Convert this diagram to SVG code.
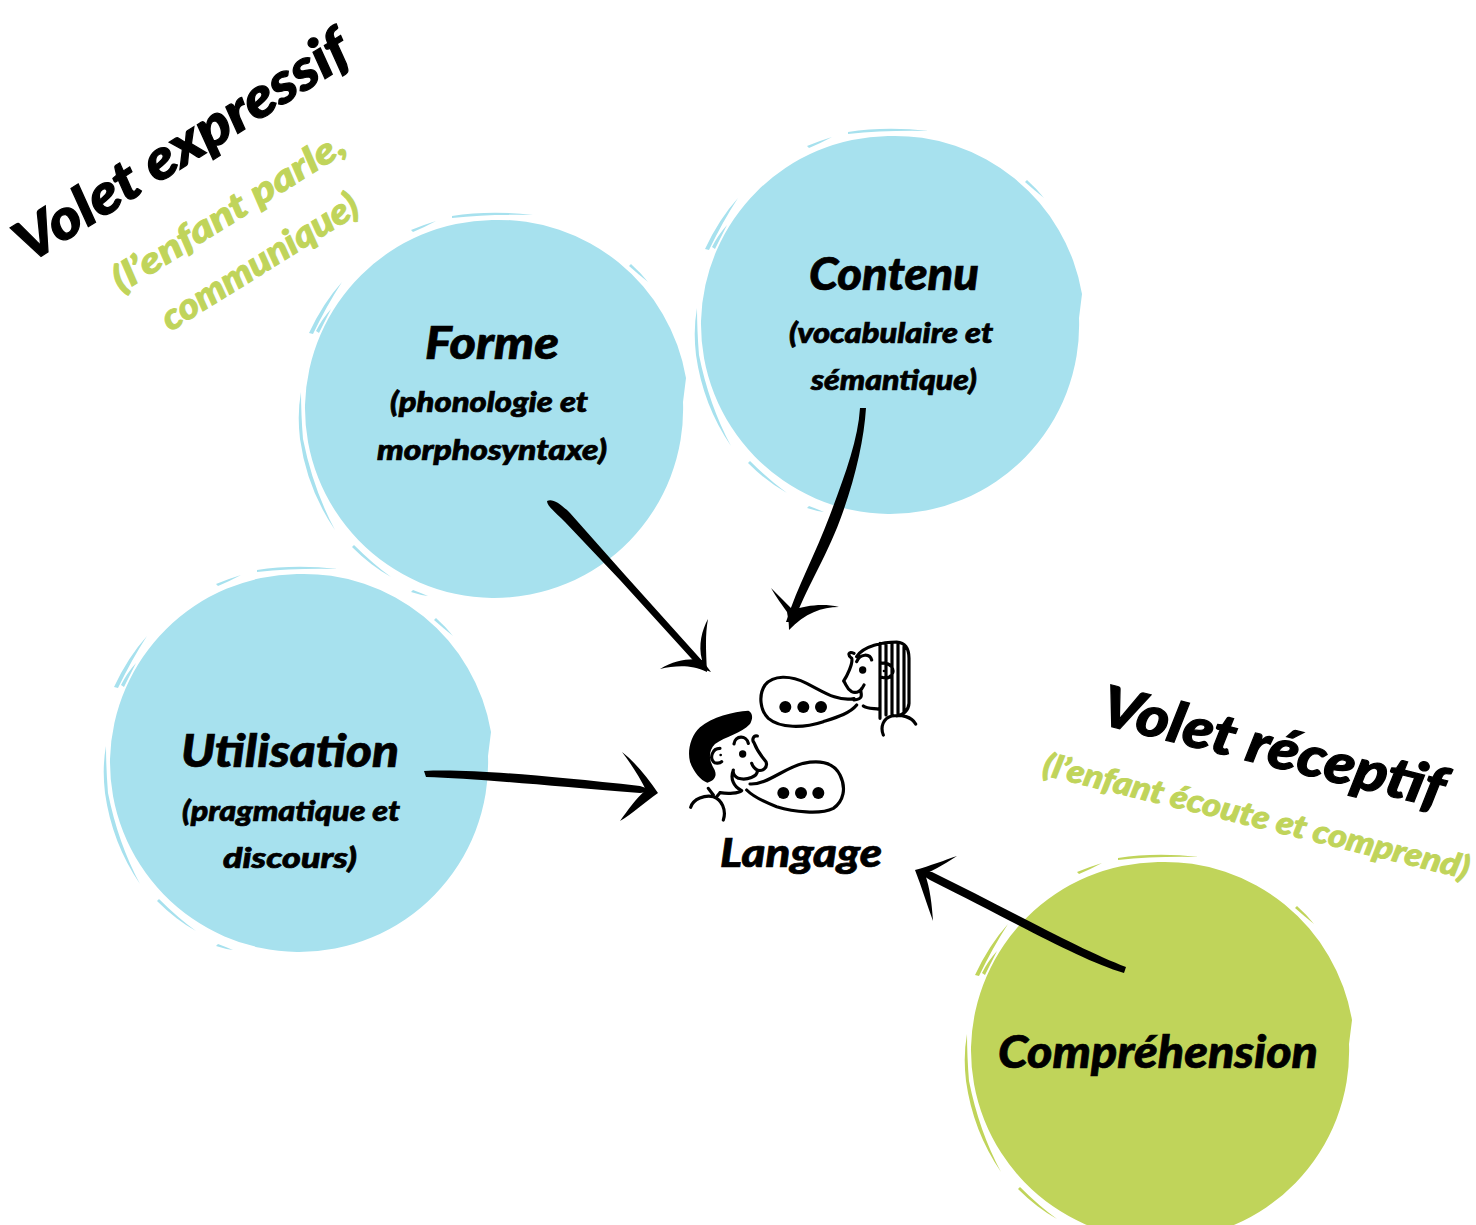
<svg xmlns="http://www.w3.org/2000/svg" width="1476" height="1225" viewBox="0 0 1476 1225">
<style>
text{font-family:"Lato","Liberation Sans",sans-serif;font-style:italic;font-weight:900;fill:#000;stroke:#000;stroke-width:.7;text-anchor:middle}
.h{font-size:45px}
.s{font-size:28px}
.b{font-size:56px;stroke-width:1.2}
.g{fill:#c0d45a;stroke:#c0d45a;font-size:36px;stroke-width:.9}
.g2{font-size:32px}
.k{fill:#000}
</style>
<defs>
<g id="blob">
<path d="M-3-189A190 190 0 0 1 191-31L188-7A189 189 0 0 1-3 189A190 190 0 0 1-190-4A190 190 0 0 1-3-189Z"/>
<path d="M-43-193Q-5-199 38-194Q-5-195-43-191ZM-84-179Q-72-184-59-188Q-70-182-82-177ZM-186-76Q-172-106-153-127Q-168-104-182-75ZM-179-78Q-173-90-164-100Q-170-88-176-76ZM-194-17Q-198 5-195 30Q-188 80-160 121Q-182 80-192 30Q-194 5-194-17ZM-141 136Q-122 155-104 168Q-124 157-143 138ZM-82 181Q-74 184-67 187Q-75 186-84 183Z"/>
<path d="M136-145Q145-137 153-127Q143-135 134-143Z"/>
</g>
</defs>

<g id="node-forme" fill="#a7e1ee">
<use href="#blob" x="495" y="409"/>
<text class="h" x="492" y="359" textLength="134" lengthAdjust="spacingAndGlyphs">Forme</text>
<text class="s" x="489" y="412" textLength="198" lengthAdjust="spacingAndGlyphs">(phonologie et</text>
<text class="s" x="492" y="460" textLength="230" lengthAdjust="spacingAndGlyphs">morphosyntaxe)</text>
</g>
<g id="node-contenu" fill="#a7e1ee">
<use href="#blob" x="891" y="325"/>
<text class="h" x="894" y="290" textLength="170" lengthAdjust="spacingAndGlyphs">Contenu</text>
<text class="s" x="891" y="343" textLength="204" lengthAdjust="spacingAndGlyphs">(vocabulaire et</text>
<text class="s" x="894" y="390" textLength="166" lengthAdjust="spacingAndGlyphs">sémantique)</text>
</g>
<g id="node-utilisation" fill="#a7e1ee">
<use href="#blob" x="300" y="763"/>
<text class="h" x="290" y="767" textLength="218" lengthAdjust="spacingAndGlyphs">Utilisation</text>
<text class="s" x="291" y="821" textLength="218" lengthAdjust="spacingAndGlyphs">(pragmatique et</text>
<text class="s" x="290" y="868" textLength="134" lengthAdjust="spacingAndGlyphs">discours)</text>
</g>
<g id="node-comprehension" fill="#c0d45a">
<use href="#blob" x="1161" y="1051"/>
<text class="h" x="1158" y="1068" textLength="320" lengthAdjust="spacingAndGlyphs">Compréhension</text>
</g>

<g id="node-langage">
<g transform="translate(670 620) scale(.33333)" fill="none" stroke="#000" stroke-width="9.500" stroke-linecap="round" stroke-linejoin="round">
<path d="M552 240C590 236 565 215 575 205M560 110C580 78 640 66 680 66C705 68 717 85 717 115L717 250C716 270 700 285 680 288M630 70L630 295M648 70V285M666 70V285M684 70V285M702 80V275M552 100C535 92 532 105 545 115C550 130 530 170 521 183C530 195 528 205 545 215C560 222 575 212 582 195M560 125C570 100 600 100 605 120M630 130C665 125 675 150 665 165C658 175 645 175 635 172M580 258C590 266 610 265 628 268M640 345C630 320 640 295 665 288C695 283 725 290 737 312M552 236C500 245 460 215 410 190C360 165 310 165 285 195C265 225 270 270 295 295C330 325 400 325 460 305C500 292 540 280 560 255"/>
<circle cx="578" cy="150" r="11" fill="#000" stroke="none"/><circle cx="642" cy="153" r="4" fill="#000" stroke="none"/>
<circle cx="346" cy="261" r="18" fill="#000" stroke="none"/><circle cx="400" cy="261" r="18" fill="#000" stroke="none"/><circle cx="453" cy="261" r="18" fill="#000" stroke="none"/>
<path d="M235 272C190 275 125 290 90 322C60 350 52 395 60 425C70 455 92 482 112 488C132 482 142 470 134 450C118 425 112 395 135 372C165 350 215 340 240 312C250 295 248 278 235 272Z" fill="#000" stroke="none"/>
<path d="M262 348C250 345 245 360 252 368C262 395 275 410 288 425C295 445 275 455 262 450C250 445 245 430 245 430M192 372C195 345 230 345 235 370M150 385C125 385 120 415 130 425C135 432 150 430 155 425M262 450C265 470 230 482 205 475C195 470 188 460 190 450C180 475 190 500 215 512C205 520 175 522 150 518M115 505L130 525M150 518L140 530M62 562C70 535 105 525 130 530C155 538 170 570 160 600M240 492C290 495 340 445 400 430C450 420 490 425 510 465C530 505 520 545 490 565C450 585 370 575 320 560C280 545 250 530 230 510"/>
<circle cx="218" cy="402" r="11" fill="#000" stroke="none"/><circle cx="152" cy="405" r="4" fill="#000" stroke="none"/>
<circle cx="340" cy="519" r="18" fill="#000" stroke="none"/><circle cx="393" cy="519" r="18" fill="#000" stroke="none"/><circle cx="445" cy="519" r="18" fill="#000" stroke="none"/>
</g>
<text class="h" x="801" y="867" textLength="162" lengthAdjust="spacingAndGlyphs" style="font-size:40px">Langage</text>
</g>

<g id="labels">
<text class="b" transform="translate(192 162) rotate(-32)" textLength="384" lengthAdjust="spacingAndGlyphs">Volet expressif</text>
<text class="g" transform="translate(235 222) rotate(-32)" textLength="268" lengthAdjust="spacingAndGlyphs">(l’enfant parle,</text>
<text class="g" transform="translate(266 272) rotate(-32)" textLength="226" lengthAdjust="spacingAndGlyphs">communique)</text>
<text class="b" transform="translate(1269 766) rotate(14)" textLength="352" lengthAdjust="spacingAndGlyphs">Volet réceptif</text>
<text class="g g2" transform="translate(1254 827) rotate(13.800)" textLength="438" lengthAdjust="spacingAndGlyphs">(l’enfant écoute et comprend)</text>
</g>

<g id="connectors" class="k">
<path d="M547 501C552 498 560 503 570 513L625 575L705 664L711 672L700 668L620 580L565 522C556 513 547 506 547 501Z"/>
<path d="M702 660C698 645 702 630 708 619C705 635 706 650 707 672C690 664 675 666 660 669C675 660 690 658 702 660Z"/>
<path d="M860 408L866 408C864 440 855 480 840 520C825 560 805 590 794 622L786 622C798 585 815 555 830 515C845 475 858 440 860 408Z"/>
<path d="M787 612C782 605 776 597 771 588C778 595 788 605 793 610C805 606 822 603 839 607C822 607 805 613 789 630C789 622 788 618 787 612Z"/>
<path d="M424 771C470 769 540 775 640 786L655 791L640 793C540 785 470 778 426 777Z"/>
<path d="M622 752C635 762 648 778 658 793C645 802 632 814 620 821C628 810 636 798 646 790C640 778 632 765 622 752Z"/>
<path d="M1126 967L1124 973C1080 960 1020 925 930 880L916 871L932 872C1000 905 1080 950 1126 967Z"/>
<path d="M957 856C942 866 930 872 925 874C930 888 932 905 933 921C927 905 922 888 915 870C930 866 945 860 957 856Z"/>
</g>
</svg>
